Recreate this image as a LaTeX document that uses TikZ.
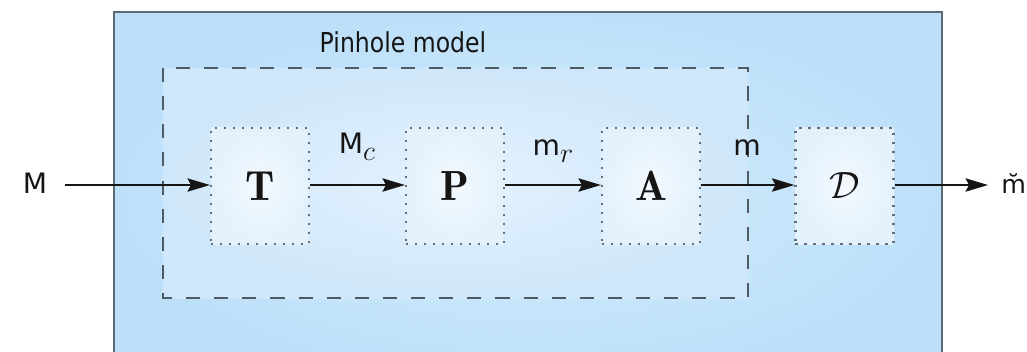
\RequirePackage{fix-cm}
\documentclass[tikz,border=0pt]{standalone}
\usepackage{fontspec}
\usetikzlibrary{arrows.meta}
\newfontfamily\tah[FakeStretch=0.86]{DejaVu Sans}
\newfontfamily\lblfont{DejaVu Sans}
\definecolor{panelout}{HTML}{BDE0F9}
\definecolor{panelin}{HTML}{D6EDFC}
\definecolor{regout}{HTML}{CFE7FA}
\definecolor{regin}{HTML}{E4F2FD}
\definecolor{boxout}{HTML}{E3F1FC}
\definecolor{boxin}{HTML}{F3F9FE}
\definecolor{frame}{HTML}{5B6B78}
\definecolor{dashc}{HTML}{4E5A64}
\definecolor{dotc}{HTML}{656E77}
\definecolor{ink}{HTML}{151515}
\tikzset{
  stage/.style={draw=dotc, line width=1.5pt, dash pattern=on 1.5pt off 4.9pt,
    inner color=boxin, outer color=boxout,
    minimum width=2.45cm, minimum height=2.9cm, inner sep=0pt,
    font=\fontsize{30}{36}\selectfont, text=ink},
  lbl/.style={inner sep=0pt, text=ink, font=\lblfont\fontsize{20}{24}\selectfont},
  arr/.style={draw=ink, line width=1pt, -{Stealth[length=16pt,width=9.5pt,inset=2.5pt]}}
}
\begin{document}
\begin{tikzpicture}[x=0.025cm,y=-0.025cm]
\useasboundingbox (0,0) rectangle (1027,351);
% camera panel, open at the bottom
\path[inner color=panelin, outer color=panelout] (114,12) rectangle (942,380);
\draw[frame, line width=1.1pt] (114,380) -- (114,12) -- (942,12) -- (942,380);
\node[inner sep=0pt, text=ink, font=\tah\fontsize{19.5}{23}\selectfont] (title) at (403,42) {Pinhole model};
% pinhole region
\path[inner color=regin, outer color=regout] (163,68) rectangle (748,298);
\draw[dashc, line width=1.5pt, dash pattern=on 10pt off 10pt] (163,68) rectangle (748,298);
% stages
\node[stage] (T) at (260,186) {$\mathbf{T}$};
\node[stage] (P) at (455,186) {$\mathbf{P}$};
\node[stage] (A) at (651,186) {$\mathbf{A}$};
\node[stage, font=\fontsize{27}{32}\selectfont] (D) at (844.5,186) {$\mathcal{D}$};
% signals
\node[lbl] (M) at (35,183) {M};
\coordinate (in) at (65,185);
\coordinate (out) at (988,185);
\node[lbl, anchor=west, font=\lblfont\fontsize{18}{22}\selectfont] (mout) at (1001,184) {m̆};
\draw[arr] (in) -- (T.west |- in);
\draw[arr] (T.east |- in) -- (P.west |- in);
\draw[arr] (P.east |- in) -- (A.west |- in);
\draw[arr] (A.east |- in) -- (D.west |- in);
\draw[arr] (D.east |- in) -- (out);
\node[lbl, anchor=base] (Mc) at (357,153) {M\raisebox{-5pt}{$c$}};
\node[lbl, anchor=base] (mr) at (553,155) {m\raisebox{-5pt}{$r$}};
\node[lbl, anchor=base] (m) at (747,155) {m};
\end{tikzpicture}
\end{document}
